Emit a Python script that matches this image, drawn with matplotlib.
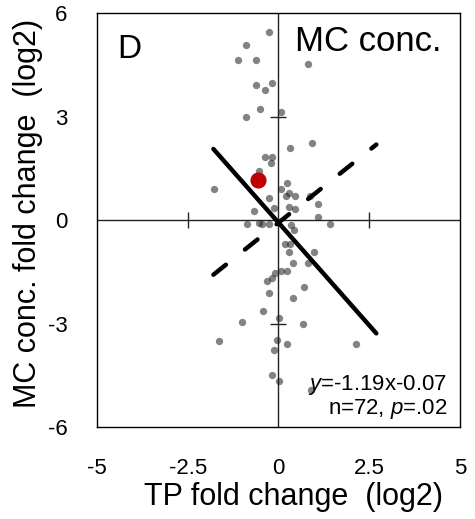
import numpy as np
import matplotlib.pyplot as plt

plt.rcParams['font.family'] = ['Liberation Sans', 'DejaVu Sans']
plt.rcParams['mathtext.fontset'] = 'custom'
plt.rcParams['mathtext.rm'] = 'Liberation Sans'
plt.rcParams['mathtext.it'] = 'Liberation Sans:italic'
plt.rcParams['axes.unicode_minus'] = False

# TP fold change (log2) vs MC conc. fold change (log2)
tp = [-0.26, -0.90, -1.11, -0.61, 0.81, -0.61, -0.17, -0.38, -0.50, 0.07,
      -0.90, 0.32, 0.93, -0.38, -0.17, -0.21, -0.54, -1.76, 0.24, 0.07,
      0.28, 0.45, -0.26, 0.22, 1.08, -0.66, -0.13, 0.28, 0.45, 1.08,
      1.41, -0.86, -0.52, -0.46, -0.26, 0.35, 0.42, 0.17, 0.32, 0.29,
      0.97, 0.41, 0.81, 0.07, 0.24, -0.10, -0.17, -0.30, -0.26, 0.72,
      0.41, -0.41, 0.03, -0.99, 0.69, -1.63, -0.05, 0.24, -0.13, -0.17,
      0.03, 0.90, 2.14, 0.88]
mc = [5.45, 5.07, 4.64, 4.64, 4.52, 3.92, 3.97, 3.76, 3.23, 3.12,
      2.98, 2.09, 2.22, 1.84, 1.84, 1.66, 1.43, 0.90, 1.07, 0.90,
      0.77, 0.69, 0.64, 0.69, 0.47, 0.26, 0.34, 0.39, 0.31, 0.09,
      -0.12, -0.12, -0.08, -0.12, -0.12, -0.15, -0.29, -0.68, -0.68, -0.94,
      -0.93, -1.25, -1.25, -1.47, -1.48, -1.54, -1.68, -1.77, -2.11, -1.95,
      -2.25, -2.63, -2.84, -2.95, -3.01, -3.51, -3.48, -3.60, -3.77, -4.49,
      -4.67, -4.92, -3.60, 0.70]
hl_tp = [-0.55]
hl_mc = [1.16]

fit_x = [-1.79, 2.70]
slope, icpt = -1.19, -0.07
slope2, icpt2 = 0.84, -0.08

xticks = [-5, -2.5, 0, 2.5, 5]
xlabels = ['-5', '-2.5', '0', '2.5', '5']
yticks = [-6, -3, 0, 3, 6]

fig = plt.figure(figsize=(4.75, 5.19), dpi=100)
ax = fig.add_axes([0.204, 0.177, 0.764, 0.798])
ax.set_xlim(-5, 5)
ax.set_ylim(-6, 6)

ax.axhline(0, color='#222222', lw=1.0, zorder=1)
ax.axvline(0, color='#222222', lw=1.0, zorder=1)
ax.plot([-2.5, 2.5], [0, 0], ls='none', marker='|', ms=11, mew=1.0, color='#222222', zorder=1)
ax.plot([0, 0], [-3, 3], ls='none', marker='_', ms=11, mew=1.0, color='#222222', zorder=1)

ax.scatter(tp, mc, s=28, color='#1e1e1e', alpha=0.55, linewidths=0, zorder=2)
ax.scatter(hl_tp, hl_mc, s=135, color='#c00000', linewidths=0, zorder=3)

fx = np.array(fit_x)
ax.plot(fx, slope * fx + icpt, color='black', lw=3.2, solid_capstyle='round', zorder=4)
ax.plot(fx, slope2 * fx + icpt2, color='black', lw=3.2, ls=(0, (3.6, 5.5)),
        dash_capstyle='round', zorder=4)

ax.set_xticks(xticks)
ax.set_xticklabels(xlabels)
ax.set_yticks(yticks)
ax.tick_params(length=0, labelsize=16)
ax.tick_params(axis='y', pad=21)
ax.tick_params(axis='x', pad=22)
for sp in ax.spines.values():
    sp.set_linewidth(1.0)

ax.set_xlabel('TP fold change  (log2)', fontsize=22, va='center')
ax.xaxis.set_label_coords(0.543, -0.169)
ax.set_ylabel('MC conc. fold change  (log2)', fontsize=22, va='center')
ax.yaxis.set_label_coords(-0.19, 0.516)

ax.text(-4.45, 5.4, 'D', fontsize=24, va='top', ha='left')
ax.text(4.5, 5.65, 'MC conc.', fontsize=25, va='top', ha='right')
ax.text(4.65, -4.92, r'$\it{y}$=-1.19x-0.07', fontsize=16, ha='right', va='baseline')
ax.text(4.65, -5.62, r'n=72, $\it{p}$=.02', fontsize=16, ha='right', va='baseline')

fig.savefig('out.png', dpi=100)
